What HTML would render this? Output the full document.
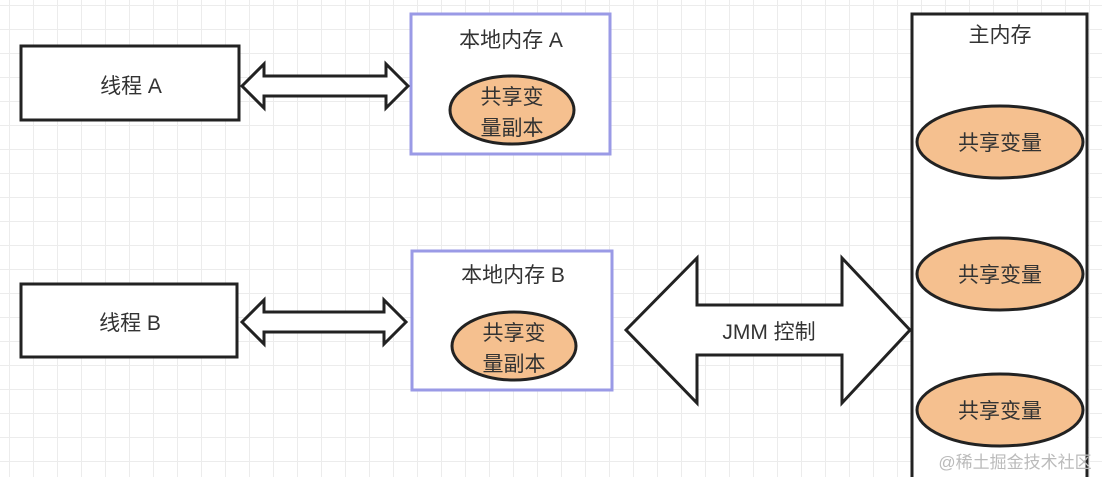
<!DOCTYPE html>
<html><head><meta charset="utf-8"><style>
body{margin:0;width:1102px;height:477px;overflow:hidden;background:#fff;
background-image:linear-gradient(#ececec 1px,transparent 1px),linear-gradient(90deg,#ececec 1px,transparent 1px);
background-size:24px 24px;background-position:9px 5px;}
svg{position:absolute;left:0;top:0}
text{font-family:"Liberation Sans","Noto Sans CJK SC",sans-serif;fill:#333;font-size:21px}
</style></head><body>
<svg width="1102" height="477">
<g stroke="#222" stroke-width="3" fill="#fff">
<rect x="21" y="46" width="218" height="74"/>
<rect x="21" y="284" width="216" height="73"/>
<rect x="912" y="14" width="175" height="470"/>
</g>
<g stroke="#9a9ae6" stroke-width="3" fill="#fff">
<rect x="411" y="14" width="199" height="140"/>
<rect x="412" y="251" width="200" height="139"/>
</g>
<g stroke="#222" stroke-width="3" fill="#fff" stroke-linejoin="miter">
<path d="M242,86 L264,64 L264,76 L386,76 L386,64 L408,86 L386,108 L386,96 L264,96 L264,108 Z"/>
<path d="M242,322 L264,300 L264,312 L384,312 L384,300 L406,322 L384,344 L384,332 L264,332 L264,344 Z"/>
<path d="M626,330 L697,258 L697,305 L842,305 L842,258 L910,330 L842,403 L842,355 L697,355 L697,403 Z"/>
</g>
<g stroke="#222" stroke-width="3" fill="#f5c08f">
<ellipse cx="512" cy="110" rx="62" ry="34"/>
<ellipse cx="514" cy="346" rx="62" ry="34"/>
<ellipse cx="1000" cy="142" rx="83" ry="36"/>
<ellipse cx="1000" cy="274" rx="83" ry="36"/>
<ellipse cx="1000" cy="410" rx="83" ry="36"/>
</g>
<g text-anchor="middle">
<text x="131" y="93">线程 A</text>
<text x="130" y="330">线程 B</text>
<text x="511" y="47">本地内存 A</text>
<text x="513" y="282">本地内存 B</text>
<text x="512" y="104">共享变</text>
<text x="512" y="135">量副本</text>
<text x="514" y="340">共享变</text>
<text x="514" y="371">量副本</text>
<text x="1000" y="42">主内存</text>
<text x="1000" y="150">共享变量</text>
<text x="1000" y="282">共享变量</text>
<text x="1000" y="418">共享变量</text>
<text x="769" y="339">JMM 控制</text>
<text x="1015" y="468" style="font-size:17px;fill:#bbb">@稀土掘金技术社区</text>
</g>
</svg>
</body></html>
